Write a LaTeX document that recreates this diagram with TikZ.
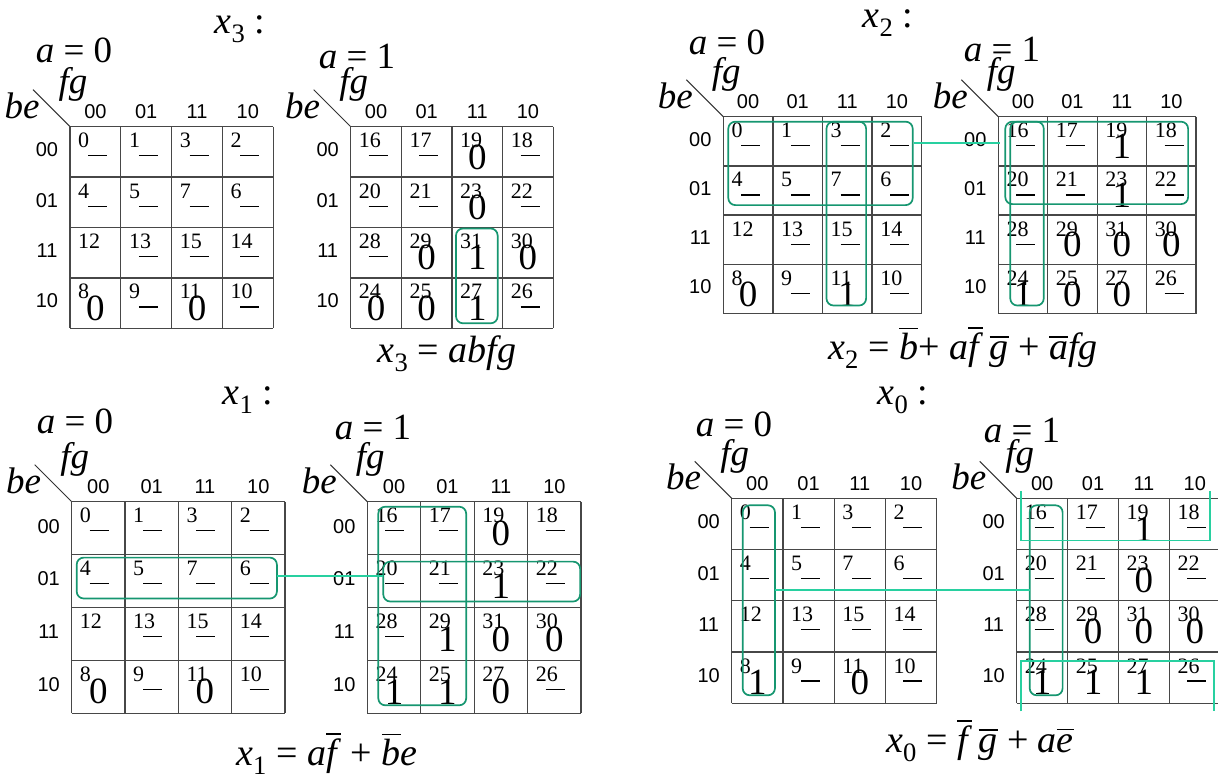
\documentclass[tikz,border=0pt]{standalone}
\usepackage{fontspec}
\setmainfont{Liberation Serif}
\newfontfamily\hdrfont{Liberation Sans}
\usetikzlibrary{calc}
\definecolor{boxg}{RGB}{22,150,112}
\definecolor{lineg}{RGB}{40,208,160}
\newcommand{\ovl}[1]{\leavevmode\vbox{\hrule height 1.4pt\kern 4pt\hbox{#1}}}
\tikzset{
  cellbox/.style={inner sep=0pt, outer sep=0pt},
  gridln/.style={draw=black!72, line width=1.3pt},
  hdr/.style={font=\hdrfont\fontsize{20}{20}\selectfont, inner sep=0pt},
  num/.style={font=\fontsize{22}{22}\selectfont, inner sep=0pt, anchor=base west},
  uline/.style={draw=black, line width=1.2pt},
  val/.style={font=\fontsize{37}{37}\selectfont, inner sep=0pt},
  lbl/.style={font=\fontsize{37}{37}\selectfont, inner sep=0pt},
  eqn/.style={font=\fontsize{38}{38}\selectfont, inner sep=0pt},
  ttl/.style={font=\fontsize{38}{38}\selectfont, inner sep=0pt},
  diag/.style={draw=black!80, line width=1pt},
  grp/.style={draw=boxg, line width=1.7pt, rounded corners=7pt},
  link/.style={draw=lineg, line width=1.8pt},
}
% #1 name, #2 left, #3 top, #4 cell w, #5 cell h, #6 a, #7 values
\newcommand{\kmap}[7]{%
  \foreach \v [count=\i from 0] in {#7} {%
    \pgfmathtruncatemacro\rr{int(\i/4)}%
    \pgfmathtruncatemacro\cc{mod(\i,4)}%
    \pgfmathtruncatemacro\nm{16*#6+{0,4,12,8}[\rr]+{0,1,3,2}[\cc]}%
    \pgfmathsetmacro\xx{#2+\cc*#4}%
    \pgfmathsetmacro\yy{#3+\rr*#5}%
    \node[cellbox, minimum width=#4pt, minimum height=#5pt, anchor=north west] (#1-c\nm) at (\xx,\yy) {};
    \node[num] (#1-n\nm) at (\xx+8,\yy+21) {\nm};
    \if\v u\draw[uline] (\xx+18,\yy+29) -- (\xx+37,\yy+29);\fi
    \if\v 0\node[val] (#1-v\nm) at (\xx+#4/2,\yy+#5/2+5) {0};\fi
    \if\v 1\node[val] (#1-v\nm) at (\xx+#4/2,\yy+#5/2+5) {1};\fi
  }
  \foreach \k in {0,...,4} {%
    \draw[gridln] (#2+\k*#4,#3) -- (#2+\k*#4,#3+4*#5);
    \draw[gridln] (#2,#3+\k*#5) -- (#2+4*#4,#3+\k*#5);
  }
  \foreach \t [count=\k from 0] in {00,01,11,10} {%
    \node[hdr] (#1-h\k) at (#2+\k*#4+#4/2, #3-15) {\t};
    \node[hdr] (#1-r\k) at (#2-23, #3+\k*#5+#5/2-2) {\t};
  }
  \pgfmathtruncatemacro\fst{16*#6}%
  \coordinate (#1-d) at (#2-37,#3-37);
  \draw[diag] (#1-d) -- (#1-c\fst.north west);
  \node[lbl] (#1-be) at (#2-48,#3-21) {\textit{be}};
  \node[lbl] (#1-fg) at (#2+3,#3-42) {\textit{fg}};
}
\begin{document}
\begin{tikzpicture}[x=1pt,y=-1pt]
\useasboundingbox (0,0) rectangle (1218,784);
% ---------- x3 ----------
\kmap{MA}{70}{126.7}{50.8}{50.4}{0}{u,u,u,u,u,u,u,u,n,u,u,u,0,u,0,u}
\kmap{MB}{350.7}{126.7}{50.65}{50.4}{1}{u,u,0,u,u,u,0,u,u,0,1,0,0,0,1,u}
\node[ttl] (tA) at (240,29) {\textit{x}\textsubscript{3} :};
\node[lbl] (aA) at (74,50) {\textit{a} = 0};
\node[lbl] (aB) at (357,56) {\textit{a} = 1};
\node[eqn] (eA) at (447,354) {\textit{x}\textsubscript{3} = \textit{abfg}};
\draw[grp] ($(MB-c31.north west)+(4,1)$) rectangle ($(MB-c27.south east)+(-5,-5)$);
% ---------- x2 ----------
\kmap{MC}{723.3}{116.7}{49.6}{49.2}{0}{u,u,u,u,u,u,u,u,n,u,u,u,0,u,1,u}
\kmap{MD}{998.3}{116.7}{49.45}{49.2}{1}{u,u,1,u,u,u,1,u,u,0,0,0,1,0,0,u}
\node[ttl] (tC) at (888,23) {\textit{x}\textsubscript{2} :};
\node[lbl] (aC) at (727,42) {\textit{a} = 0};
\node[lbl] (aD) at (1002,49) {\textit{a} = 1};
\node[eqn] (eC) at (963,348) {\textit{x}\textsubscript{2} = \ovl{\textit{b}}+ \textit{a}\ovl{\textit{f}}\,\ovl{\textit{g}} + \ovl{\textit{a}}\textit{fg}};
\draw[grp] ($(MC-c0.north west)+(5,5)$) rectangle ($(MC-c6.south east)+(-9,-10)$);
\draw[grp] ($(MC-c3.north west)+(4,5)$) rectangle ($(MC-c11.south east)+(-6,-8)$);
\draw[grp] ($(MD-c16.north west)+(7,5)$) rectangle ($(MD-c22.south east)+(-8,-11)$);
\draw[grp] ($(MD-c16.north west)+(12,5)$) rectangle ($(MD-c24.south east)+(-4,-8)$);
\draw[link] ($(MC-c2.east)+(-8,2)$) -- ($(MD-c16.west)+(2,2)$);
% ---------- x1 ----------
\kmap{ME}{71.7}{501.7}{53.3}{52.9}{0}{u,u,u,u,u,u,u,u,n,u,u,u,0,u,0,u}
\kmap{MF}{367.3}{501.7}{53.45}{52.9}{1}{u,u,0,u,u,u,1,u,u,1,0,0,1,1,0,u}
\node[ttl] (tE) at (248,400) {\textit{x}\textsubscript{1} :};
\node[lbl] (aE) at (75,421) {\textit{a} = 0};
\node[lbl] (aF) at (373,427) {\textit{a} = 1};
\node[eqn] (eE) at (327,754) {\textit{x}\textsubscript{1} = \textit{a}\ovl{\textit{f}} + \ovl{\textit{b}}\textit{e}};
\draw[grp] ($(ME-c4.north west)+(5,3)$) rectangle ($(ME-c6.south east)+(-8,-9)$);
\draw[grp] ($(MF-c16.north west)+(11,5)$) rectangle ($(MF-c25.south east)+(-8,-8)$);
\draw[grp] ($(MF-c20.north west)+(16,7)$) rectangle ($(MF-c22.south east)+(-1,-6)$);
\draw[link] ($(ME-c6.east)+(-8,-5)$) -- ($(MF-c20.west)+(16,-5)$);
% ---------- x0 ----------
\kmap{MG}{731.7}{498.3}{51.25}{51.25}{0}{u,u,u,u,u,u,u,u,n,u,u,u,1,u,0,u}
\kmap{MH}{1016.7}{498.3}{50.9}{51.25}{1}{u,u,1,u,u,u,0,u,u,0,0,0,1,1,1,u}
\node[ttl] (tG) at (903,400) {\textit{x}\textsubscript{0} :};
\node[lbl] (aG) at (734,424) {\textit{a} = 0};
\node[lbl] (aH) at (1022,430) {\textit{a} = 1};
\node[eqn] (eG) at (980,741) {\textit{x}\textsubscript{0} = \ovl{\textit{f}}\,\ovl{\textit{g}} + \textit{a}\ovl{\textit{e}}};
\draw[grp] ($(MG-c0.north west)+(11,7)$) rectangle ($(MG-c8.south east)+(-8,-8)$);
\draw[grp] ($(MH-c16.north west)+(13,7)$) rectangle ($(MH-c24.south east)+(-5,-8)$);
\draw[link] ($(MG-c4.south east)+(-8,-11)$) -- ($(MH-c20.south west)+(13,-11)$);
\draw[link] ($(MH-c16.north west)+(4,-7)$) -- ($(MH-c16.south west)+(4,-9)$) -- ($(MH-c18.south east)+(-10,-9)$) -- ($(MH-c18.north east)+(-10,-7)$);
\draw[link] ($(MH-c24.south west)+(4,8)$) -- ($(MH-c24.north west)+(4,9)$) -- ($(MH-c26.north east)+(-6,9)$) -- ($(MH-c26.south east)+(-6,8)$);
\end{tikzpicture}
\end{document}
